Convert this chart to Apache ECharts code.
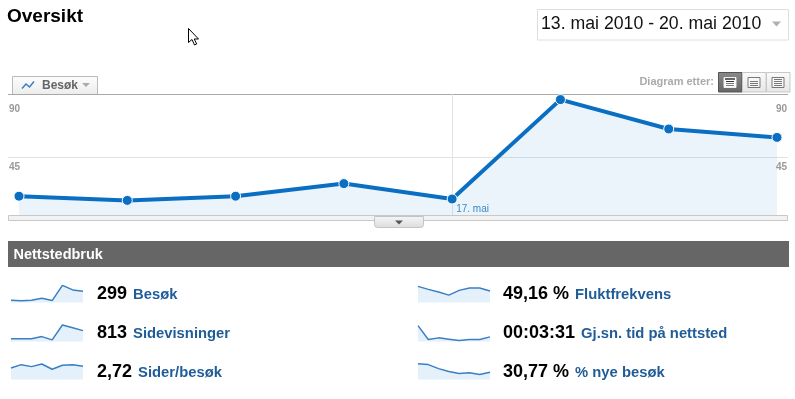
<!DOCTYPE html>
<html><head><meta charset="utf-8">
<script src="https://cdn.jsdelivr.net/npm/echarts@6/dist/echarts.min.js"></script>
<style>html,body{margin:0;padding:0;background:#fff}#c{width:795px;height:399px}</style>
</head><body><div id="c"></div>
<script>
// ---- data ----
const dates = ['13. mai','14. mai','15. mai','16. mai','17. mai','18. mai','19. mai','20. mai'];
const visits = [17,14,17,26,15,86,65,59];
const yTicks = [0,45,90];
const markedDateIndex = 4;
const pageviews = [47,46,46,75,33,224,190,152];
const pagesPerVisit = [2.4,2.9,2.6,3.0,2.2,2.8,2.9,2.65];
const bounceRate = [59,50,42,33,47,54,54,45];
const avgTime = [600,180,230,190,150,180,180,260];
const newVisits = [60,57,44,35,28,31,25,32];
const metricNames = ['Besøk','Sidevisninger','Sider/besøk','Fluktfrekvens','Gj.sn. tid på nettsted','% nye besøk'];
const metricValues = ['299','813','2,72','49,16 %','00:03:31','30,77 %'];
const dateRange = '13. mai 2010 - 20. mai 2010';

// ---- layout ----
const FONT = '"Liberation Sans", Arial, sans-serif';
const BLUE = '#0a6fc2';
const sparkSeries = [visits, pageviews, pagesPerVisit, bounceRate, avgTime, newVisits];
const sparkRanges = [[6,88],[12,237],[0.65,3.3],[11,63],[120,650],[9,65.3]];
const colX = [11, 418];
const rowTop = [285, 324, 362];
const textX = [97, 503];
const rowMid = [294.5, 333.5, 372.5];

const chart = echarts.init(document.getElementById('c'), null, {renderer:'canvas'});

const grids = [
  {left: 8, top: 94, width: 780, height: 126},
  {left: 19, top: 94, width: 758, height: 126}
];
const xAxes = [
  {gridIndex: 0, type: 'value', min: 0, max: 1, show: false},
  {gridIndex: 1, type: 'category', data: dates, boundaryGap: false,
   axisLine: {show: false}, axisTick: {show: false},
   splitLine: {show: true, interval: (i) => i === markedDateIndex, lineStyle: {color: '#e4e4e4', width: 1}},
   axisLabel: {interval: (i) => i === markedDateIndex, inside: true, margin: 6, align: 'left',
     padding: [0,0,0,4], color: '#3f8ccb', fontSize: 10, fontFamily: FONT}}
];
const yLabel = (v) => v === yTicks[0] ? '' : (v === yTicks[2] ? '{a|' + v + '}' : '{b|' + v + '}');
const yRich = {a: {padding: [10,0,0,0], color: '#999', fontSize: 10, fontWeight: 'bold', fontFamily: FONT},
               b: {padding: [5,0,0,0], color: '#999', fontSize: 10, fontWeight: 'bold', fontFamily: FONT}};
const yAxes = [
  {gridIndex: 0, type: 'value', min: yTicks[0], max: yTicks[2], interval: yTicks[1], position: 'left',
   axisLine: {show: false}, axisTick: {show: false},
   splitLine: {show: true, lineStyle: {color: ['rgba(0,0,0,0)', '#e2e2e2', '#a8a8a8'], width: 1}},
   axisLabel: {inside: true, margin: 1, verticalAlign: 'top', formatter: yLabel, rich: yRich}},
  {gridIndex: 0, type: 'value', min: yTicks[0], max: yTicks[2], interval: yTicks[1], position: 'right',
   axisLine: {show: false}, axisTick: {show: false}, splitLine: {show: false},
   axisLabel: {inside: true, margin: 1, verticalAlign: 'top', formatter: yLabel, rich: yRich}},
  {gridIndex: 1, type: 'value', min: yTicks[0], max: yTicks[2], show: false}
];
const series = [{
  type: 'line', xAxisIndex: 1, yAxisIndex: 2, data: visits, clip: false,
  lineStyle: {color: BLUE, width: 4}, symbol: 'circle', symbolSize: 10,
  itemStyle: {color: BLUE, borderColor: '#fff', borderWidth: 1},
  areaStyle: {color: 'rgba(0,112,200,0.11)'}, z: 3
}];

sparkSeries.forEach((d, i) => {
  const col = Math.floor(i / 3), row = i % 3;
  grids.push({left: colX[col], top: rowTop[row], width: 72, height: 17.5});
  const gi = grids.length - 1;
  xAxes.push({gridIndex: gi, type: 'category', data: dates, boundaryGap: false, show: false});
  yAxes.push({gridIndex: gi, type: 'value', min: sparkRanges[i][0], max: sparkRanges[i][1], show: false});
  series.push({type: 'line', xAxisIndex: xAxes.length - 1, yAxisIndex: yAxes.length - 1, data: d,
    symbol: 'none', lineStyle: {color: '#3a7fc4', width: 1.5},
    areaStyle: {color: '#e4f0fa', opacity: 1}});
});

const graphics = [];
// title
graphics.push({type: 'text', left: 7, top: 7, style: {text: 'Oversikt', font: 'bold 19px ' + FONT, fill: '#000'}});
// cursor
graphics.push({type: 'polygon', x: 188.5, y: 28.5, z: 50,
  shape: {points: [[0,0],[0,14],[3.5,11],[6,16.5],[8.2,15.5],[5.7,10.5],[10,10.5]]},
  style: {fill: '#fff', stroke: '#000', lineWidth: 1}});
// date box
graphics.push({type: 'rect', shape: {x: 537.5, y: 9.5, width: 251, height: 30.5},
  style: {fill: '#fff', stroke: '#dedede', lineWidth: 1}});
graphics.push({type: 'text', x: 541, y: 24.5, style: {text: dateRange, font: '17.7px ' + FONT, fill: '#111', textVerticalAlign: 'middle'}});
graphics.push({type: 'polygon', shape: {points: [[772,21.5],[781,21.5],[776.5,26.5]]}, style: {fill: '#b0b0b0'}});
// Diagram etter
graphics.push({type: 'text', x: 714, y: 81.5, style: {text: 'Diagram etter:', font: 'bold 11px ' + FONT, fill: '#aaa', textAlign: 'right', textVerticalAlign: 'middle'}});
const btnX = [718.5, 742.5, 766.5];
btnX.forEach((bx, k) => {
  const dark = k === 0;
  graphics.push({type: 'rect', shape: {x: bx, y: 72.5, width: 23.5, height: 19.5},
    style: {fill: dark ? new echarts.graphic.LinearGradient(0,0,0,1,[{offset:0,color:'#8a8a8a'},{offset:1,color:'#666'}])
                       : new echarts.graphic.LinearGradient(0,0,0,1,[{offset:0,color:'#fbfbfb'},{offset:1,color:'#e6e6e6'}]),
            stroke: dark ? '#555' : '#c8c8c8', lineWidth: 1}});
  const ix = bx + 5.5, iy = 77.5;
  graphics.push({type: 'rect', shape: {x: ix, y: iy, width: 12, height: 10},
    style: {fill: dark ? '#fff' : '#f8f8f8', stroke: dark ? '#eee' : '#777', lineWidth: 1}});
  const nLines = k === 2 ? [0,1,2,3] : [1,2,3];
  nLines.forEach(l => {
    graphics.push({type: 'line', shape: {x1: ix + 2, y1: iy + 2 + l * 2, x2: ix + 10, y2: iy + 2 + l * 2},
      style: {stroke: k === 0 && l === 1 ? '#333' : '#777', lineWidth: 1}});
  });
  if (k === 0) graphics.push({type: 'line', shape: {x1: ix + 1, y1: iy + 1.5, x2: ix + 11, y2: iy + 1.5}, style: {stroke: '#333', lineWidth: 1.5}});
});
// tab
graphics.push({type: 'rect', shape: {x: 12.5, y: 76.5, width: 85, height: 18},
  style: {fill: new echarts.graphic.LinearGradient(0,0,0,1,[{offset:0,color:'#fdfdfd'},{offset:1,color:'#ececec'}]), stroke: '#bbb', lineWidth: 1}});
graphics.push({type: 'polyline', shape: {points: [[22,88.5],[26,84],[29.5,87],[34,81.5]]}, style: {stroke: '#3a7fc4', lineWidth: 1.5, fill: null}});
graphics.push({type: 'text', x: 42, y: 86, style: {text: 'Besøk', font: 'bold 12px ' + FONT, fill: '#666', textVerticalAlign: 'middle'}});
graphics.push({type: 'polygon', shape: {points: [[82,83],[90,83],[86,87]]}, style: {fill: '#aaa'}});
// scroll track + handle
graphics.push({type: 'rect', z: 100, shape: {x: 8.5, y: 215.5, width: 779, height: 5}, style: {fill: '#f2f2f2', stroke: '#c8c8c8', lineWidth: 1}});
graphics.push({type: 'rect', z: 101, shape: {x: 374.5, y: 216.5, width: 49, height: 11, r: [0,0,3,3]},
  style: {fill: new echarts.graphic.LinearGradient(0,0,0,1,[{offset:0,color:'#f6f6f6'},{offset:1,color:'#dcdcdc'}]), stroke: '#c4c4c4', lineWidth: 1}});
graphics.push({type: 'polygon', z: 102, shape: {points: [[395,220.5],[403,220.5],[399,224.5]]}, style: {fill: '#555'}});
// header bar
graphics.push({type: 'rect', shape: {x: 8, y: 241, width: 781, height: 26}, style: {fill: '#666'}});
graphics.push({type: 'text', x: 13.5, y: 255, style: {text: 'Nettstedbruk', font: 'bold 14.5px ' + FONT, fill: '#fff', textVerticalAlign: 'middle'}});
// metric texts
metricNames.forEach((name, i) => {
  const col = Math.floor(i / 3), row = i % 3;
  graphics.push({type: 'text', x: textX[col], y: rowMid[row], style: {
    text: '{n|' + metricValues[i] + '}{l|' + name + '}',
    textVerticalAlign: 'middle',
    rich: {n: {font: 'bold 18px ' + FONT, fill: '#000'},
           l: {font: 'bold 14.8px ' + FONT, fill: '#1f5c98', padding: [0,0,0,6]}}
  }});
});

chart.setOption({
  animation: false,
  backgroundColor: '#fff',
  grid: grids, xAxis: xAxes, yAxis: yAxes, series: series,
  graphic: {elements: graphics}
});
</script></body></html>
